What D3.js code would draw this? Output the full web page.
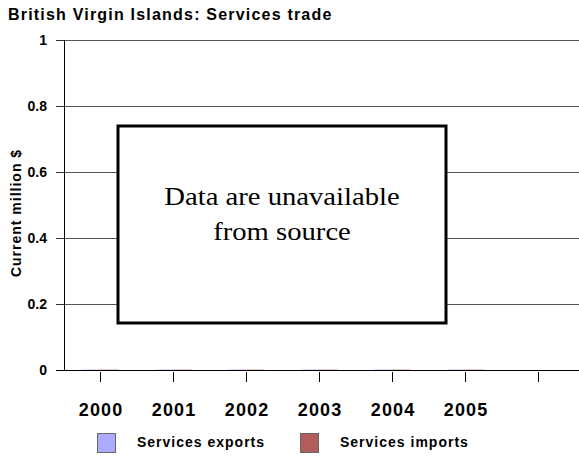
<!DOCTYPE html>
<html><head><meta charset="utf-8">
<script src="https://cdn.jsdelivr.net/npm/d3@7"></script>
<style>body{margin:0;background:#fff}svg{display:block}</style>
</head><body>
<script>
const categories = ["2000","2001","2002","2003","2004","2005",""];
const exportsVals = [0,0,0,0,0,0,null];
const importsVals = [0,0,0,0,0,0,null];
const yTicks = [0,0.2,0.4,0.6,0.8,1];
const seriesNames = ["Services exports","Services imports"];
const seriesColors = ["#aaaaff","#b35c5c"];

const W=579,H=457;
const svg=d3.select("body").append("svg").attr("width",W).attr("height",H);
const m={left:64,top:40,bottom:370,right:575};
const x=d3.scaleBand().domain(categories).range([m.left,m.right]);
const y=d3.scaleLinear().domain([0,1]).range([m.bottom,m.top]);
const font="Arial, 'Liberation Sans', sans-serif";

svg.append("text").attr("x",8).attr("y",20).attr("font-family",font).attr("font-weight","bold")
  .attr("font-size",16).attr("letter-spacing",1.2).text("British Virgin Islands: Services trade");

// gridlines
svg.append("g").selectAll("line").data(yTicks.filter(d=>d>0)).join("line")
  .attr("x1",m.left).attr("x2",W).attr("y1",d=>y(d)).attr("y2",d=>y(d))
  .attr("stroke","#555").attr("stroke-width",1).attr("shape-rendering","crispEdges");

// y axis
const ya=svg.append("g").attr("transform",`translate(${m.left},0)`)
  .call(d3.axisLeft(y).tickValues(yTicks).tickSize(8).tickPadding(9).tickFormat(d=>d===0?"0":d===1?"1":d3.format(".1f")(d)));
ya.select(".domain").attr("stroke","#000").attr("shape-rendering","crispEdges");
ya.selectAll(".tick line").attr("stroke","#333").attr("shape-rendering","crispEdges");
ya.selectAll("text").attr("font-family",font).attr("font-weight","bold").attr("font-size",14).attr("fill","#000");

// x baseline
svg.append("line").attr("x1",m.left-8).attr("x2",W).attr("y1",y(0)).attr("y2",y(0))
  .attr("stroke","#000").attr("shape-rendering","crispEdges");

// x axis ticks
const xa=svg.append("g").attr("transform",`translate(0,${y(0)+2})`)
  .call(d3.axisBottom(x).tickSize(10).tickPadding(21));
xa.select(".domain").remove();
xa.selectAll(".tick line").attr("stroke","#000").attr("shape-rendering","crispEdges");
xa.selectAll("text").attr("font-family",font).attr("font-weight","bold").attr("font-size",18)
  .attr("letter-spacing",1.2).attr("dx",0.6).attr("fill","#000");

// bars
const bw=18;
const bars=svg.append("g");
[exportsVals,importsVals].forEach((vals,si)=>{
  bars.selectAll(null).data(categories.map((c,i)=>({c,v:vals[i]})).filter(d=>d.v!==null)).join("rect")
    .attr("x",d=>x(d.c)+x.bandwidth()/2-bw+si*bw).attr("width",bw)
    .attr("y",d=>y(d.v)-1).attr("height",d=>Math.max(1,y(0)-y(d.v)))
    .attr("fill",seriesColors[si]).attr("opacity",0.35);
});

// y label
svg.append("text").attr("transform",`translate(21,213) rotate(-90)`).attr("text-anchor","middle")
  .attr("font-family",font).attr("font-weight","bold").attr("font-size",14).attr("letter-spacing",1)
  .text("Current million $");

// unavailable box
svg.append("rect").attr("x",118).attr("y",126).attr("width",328).attr("height",197)
  .attr("fill","#fff").attr("stroke","#000").attr("stroke-width",3);
const serif="'Liberation Serif','Times New Roman',serif";
svg.append("text").attr("transform","translate(282,205) scale(1.17,1)").attr("text-anchor","middle")
  .attr("font-family",serif).attr("font-size",24.5).text("Data are unavailable");
svg.append("text").attr("transform","translate(282,240) scale(1.17,1)").attr("text-anchor","middle")
  .attr("font-family",serif).attr("font-size",24.5).text("from source");

// legend
const lx=[97,300];
seriesNames.forEach((n,i)=>{
  svg.append("rect").attr("x",lx[i]+0.5).attr("y",433.5).attr("width",18).attr("height",19)
    .attr("fill",seriesColors[i]).attr("stroke","#666");
  svg.append("text").attr("x",lx[i]+40).attr("y",447).attr("font-family",font).attr("font-weight","bold")
    .attr("font-size",14).attr("letter-spacing",1).text(n);
});
</script>
</body></html>
